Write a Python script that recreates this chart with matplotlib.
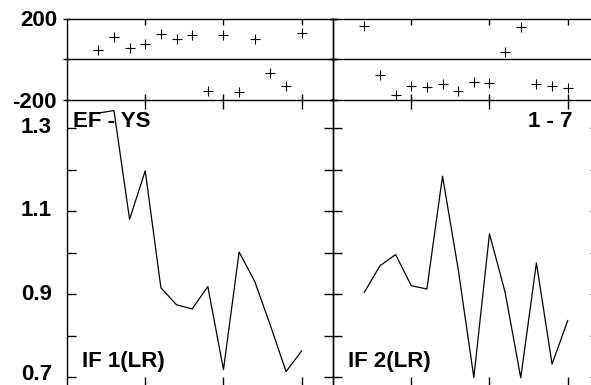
import matplotlib
matplotlib.use("Agg")
import matplotlib.pyplot as plt

plt.rcParams['font.family'] = ['Liberation Sans', 'DejaVu Sans']

# ---- data ----
x = list(range(2, 16))
top_left = [46, 109, 54, 76, 124, 99, 122, -156, 122, -161, 99, -70, -133, 129]
top_right = [167, -77, -178, -133, -138, -123, -160, -115, -120, 38, 159, -123, -133, -143]
if1 = [1.336, 1.342, 1.080, 1.197, 0.915, 0.874, 0.864, 0.918, 0.718, 1.001,
       0.930, 0.824, 0.713, 0.763]
if2 = [0.904, 0.968, 0.995, 0.920, 0.912, 1.184, 0.960, 0.699, 1.045, 0.904,
       0.698, 0.975, 0.731, 0.836]
top_labels = ["EF - YS", "1 - 7"]
bottom_labels = ["IF 1(LR)", "IF 2(LR)"]
x_ticks = [5, 10, 15]
top_yticks = [-200, 0, 200]
top_yticklabels = ["-200", "200"]
bot_major = [0.7, 0.9, 1.1, 1.3]
bot_major_labels = ["0.7", "0.9", "1.1", "1.3"]
bot_minor = [0.8, 1.0, 1.2]

W, H = 591, 385
fig = plt.figure(figsize=(W / 100, H / 100), dpi=100)

def rect(x0, y_top, w, h):
    return [x0 / W, (H - y_top - h) / H, w / W, h / H]

pw = 266
top_y, top_h = 19, 80.5
bot_y, bot_h = 99.5, 286.5

lw = 1.0
fs = 16

def style(ax):
    ax.patch.set_visible(False)
    for s in ax.spines.values():
        s.set_linewidth(lw)
        s.set_color('black')
    ax.set_xlim(0, 17)
    ax.set_xticks(x_ticks)
    ax.set_xticklabels([])

bot_axes = []
top_axes = []
for col, (x0, tv, bv) in enumerate([(67, top_left, if1), (333, top_right, if2)]):
    axt = fig.add_axes(rect(x0, top_y, pw, top_h))
    style(axt)
    axt.plot(x, tv, linestyle='none', marker='+', color='black', markersize=7, mew=0.8)
    axt.axhline(0, color='black', lw=lw)
    axt.set_ylim(-200, 200)
    axt.set_yticks(top_yticks)
    axt.set_yticklabels([])
    axt.tick_params(axis='x', which='both', direction='in', top=True, bottom=True, length=4, width=lw)
    axt.tick_params(axis='y', which='both', direction='inout', left=True, right=True, length=6, width=lw)
    top_axes.append(axt)

    axb = fig.add_axes(rect(x0, bot_y, pw, bot_h))
    style(axb)
    axb.spines['top'].set_visible(False)
    axb.plot(x, bv, color='black', lw=0.9)
    axb.set_ylim(0.7 - 9 / 415, 1.3 + 28.5 / 415)
    axb.set_yticks(bot_major)
    axb.set_yticks(bot_minor, minor=True)
    axb.set_yticklabels([])
    axb.tick_params(axis='x', which='both', direction='in', top=True, bottom=True, length=6.5, width=lw)
    axb.tick_params(axis='y', which='both', direction='in', left=True, right=True, length=6.5, width=lw)
    bot_axes.append(axb)

# y tick labels placed next to the left spine (positions derived from the axes scales)
fig.canvas.draw()
inv = fig.transFigure.inverted()
tk = dict(fontsize=fs, fontweight='bold', ha='right', va='center')
for val, lab in zip([-200, 200], top_yticklabels):
    px, py = top_axes[0].transData.transform((0, val))
    dy = 3 if val < 0 else 2
    fx, fy = inv.transform((px - 10, py - dy))
    fig.text(fx, fy, lab, **tk)
for val, lab in zip(bot_major, bot_major_labels):
    px, py = bot_axes[0].transData.transform((0, val))
    dy = -2 if val == 0.7 else 0
    fx, fy = inv.transform((px - 15, py - dy))
    fig.text(fx, fy, lab, **tk)

fig.text(73 / W, (H - 127) / H, top_labels[0], fontsize=fs, fontweight='bold',
         ha='left', va='baseline')
fig.text(572 / W, (H - 127) / H, top_labels[1], fontsize=fs, fontweight='bold',
         ha='right', va='baseline')
fig.text(82 / W, (H - 367) / H, bottom_labels[0], fontsize=fs, fontweight='bold',
         ha='left', va='baseline')
fig.text(348 / W, (H - 367) / H, bottom_labels[1], fontsize=fs, fontweight='bold',
         ha='left', va='baseline')

fig.savefig("out.png", dpi=100)
